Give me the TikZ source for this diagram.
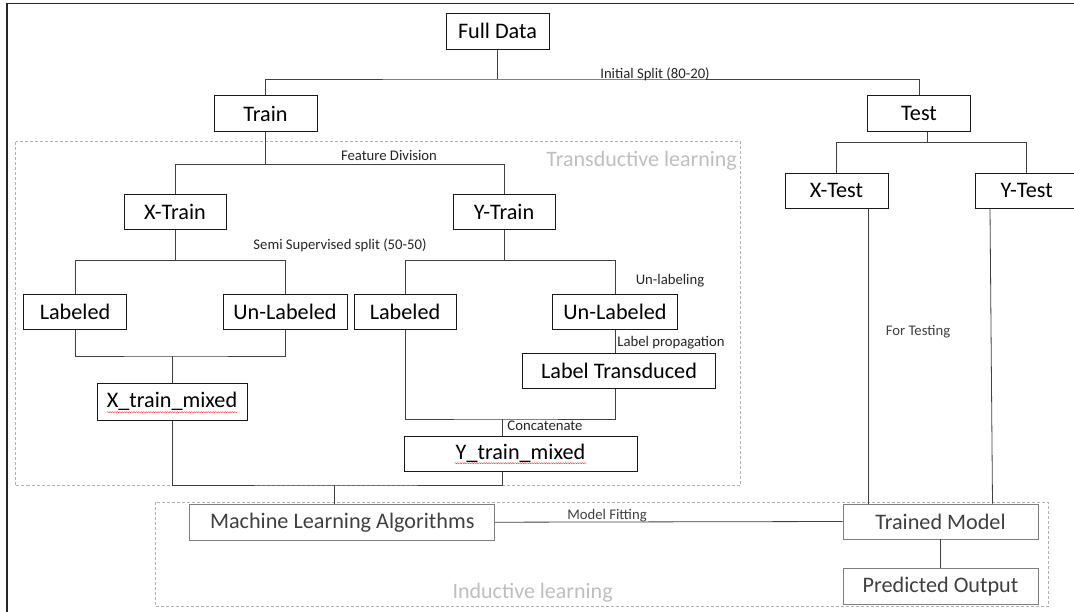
\documentclass[tikz,border=0pt]{standalone}
\usepackage{fontspec}
\setmainfont{Carlito}
\usetikzlibrary{calc,decorations.pathmorphing}
\definecolor{frameC}{HTML}{262626}
\definecolor{lineC}{HTML}{404040}
\definecolor{dashC}{HTML}{B0B0B0}
\definecolor{ghostC}{HTML}{BFBFBF}
\definecolor{softtext}{HTML}{404040}
\definecolor{softbox}{HTML}{7F7F7F}
\begin{document}
\begin{tikzpicture}[x=1pt,y=-1pt,
  box/.style={draw=black!90, line width=0.8pt, inner sep=0pt, fill=white,
    font=\fontsize{22.2}{26}\selectfont},
  gbox/.style={box, draw=softbox, text=softtext},
  sz/.style 2 args={minimum width=#1pt, minimum height=#2pt},
  conn/.style={draw=lineC, line width=0.8pt},
  lbl/.style={inner sep=0pt, text=frameC, font=\fontsize{14.7}{17}\selectfont},
  ghost/.style={inner sep=0pt, text=ghostC, font=\fontsize{22}{26}\selectfont},
  region/.style={draw=dashC, line width=0.7pt, dash pattern=on 3pt off 2pt},
  squig/.style={draw=red!75, line width=0.45pt, decorate,
    decoration={snake, amplitude=0.6pt, segment length=2.4pt}}]
\useasboundingbox (0,0) rectangle (1074,611);
\fill[white] (0,0) rectangle (1074,611);
% outer frame
\draw[frameC, line width=1.3pt] (7,615) -- (7,3.3) -- (1080,3.3);
% dashed regions
\draw[region] (15.5,141.7) rectangle (740,485.7);
\draw[region] (155,502.3) rectangle (1048,606.7);
\node[ghost, anchor=east] (tlab) at (737,161) {Transductive learning};
\node[ghost] (ilab) at (532.6,592.7) {Inductive learning};
% nodes
\node[box, sz={103}{36}] (full) at (497.5,31.2) {Full Data};
\node[box, sz={103}{36}] (train) at (265.5,113.7) {Train};
\node[box, sz={103}{36}] (test) at (919,113.7) {Test};
\node[box, sz={103}{35}] (xtest) at (836.5,190.8) {X-Test};
\node[box, sz={102}{35}] (ytest) at (1026.7,190.8) {Y-Test};
\node[box, sz={102}{35}] (xtrain) at (175,211.8) {X-Train};
\node[box, sz={102}{35}] (ytrain) at (504,211.8) {Y-Train};
\node[box, sz={103}{35}] (xlab) at (75,311.8) {Labeled};
\node[box, sz={124}{35}] (xunl) at (285,311.8) {Un-Labeled};
\node[box, sz={102}{35}] (ylab) at (405,311.8) {Labeled};
\node[box, sz={125}{35}] (yunl) at (615,311.8) {Un-Labeled};
\node[box, sz={193}{35}] (ltrans) at (619,370.8) {Label Transduced};
\node[box, sz={150}{37}] (xmix) at (172,401.7) {X\_train\_mixed};
\node[box, sz={233}{35}] (ymix) at (520.5,453.7) {Y\_train\_mixed};
\node[gbox, sz={305}{36}] (ml) at (342.3,522.2) {Machine Learning Algorithms};
\node[gbox, sz={195}{35}] (trained) at (940.5,521.5) {Trained Model};
\node[gbox, sz={195}{36}] (pred) at (940.5,586.2) {Predicted Output};
% spell-check squiggles
\draw[squig] ($(xmix.center)+(-65,10.5)$) -- ++(130,0);
\draw[squig] ($(ymix.center)+(-66,9.5)$) -- ++(132,0);
% junction coordinates
\coordinate (j1) at (497.5,79);
\coordinate (j2) at (927,142.7);
\coordinate (j3) at (265.5,164.3);
\coordinate (j4) at (175,260.3);
\coordinate (j5) at (504,260.3);
\coordinate (j6) at (172,356);
\coordinate (j7) at (502,419);
\coordinate (j8) at (334.6,485);
\coordinate (xt) at (868,0);
\coordinate (yt1) at (990,0);
\coordinate (yt2) at (992.5,0);
% connectors
\draw[conn] (full.south) -- (j1);
\draw[conn] (train.north) |- (j1) -| (test.north);
\draw[conn] (test.south -| j2) -- (j2);
\draw[conn] (xtest.north) |- (j2) -| (ytest.north);
\draw[conn] (train.south) -- (j3);
\draw[conn] (xtrain.north) |- (j3) -| (ytrain.north);
\draw[conn] (xtrain.south) -- (j4);
\draw[conn] (xlab.north) |- (j4) -| (xunl.north);
\draw[conn] (ytrain.south) -- (j5);
\draw[conn] (ylab.north) |- (j5) -| (yunl.north);
\draw[conn] (xlab.south) |- (j6) -| (xunl.south);
\draw[conn] (j6) -- (xmix.north);
\draw[conn] (yunl.south) -- (ltrans.north -| yunl.south);
\draw[conn] (ylab.south) |- (j7) -| (ltrans.south -| yunl.south);
\draw[conn] (j7) -- (ymix.north -| j7);
\draw[conn] (xmix.south) |- (j8) -| (ymix.south -| j7);
\draw[conn] (j8) -- (ml.north -| j8);
\draw[conn] (ml.east) -- (trained.west);
\draw[conn] (trained.south) -- (pred.north);
\draw[conn] (xtest.south -| xt) -- (trained.north -| xt);
\draw[conn] (ytest.south -| yt1) -- (trained.north -| yt2);
% connector labels
\node[lbl] (l1) at (655,74) {Initial Split (80-20)};
\node[lbl] (l2) at (389,155) {Feature Division};
\node[lbl] (l3) at (340,245.7) {Semi Supervised split (50-50)};
\node[lbl] (l4) at (670,281) {Un-labeling};
\node[lbl] (l5) at (671,342.3) {Label propagation};
\node[lbl] (l6) at (545,426) {Concatenate};
\node[lbl, text=softtext] (l7) at (607,516) {Model Fitting};
\node[lbl, text=softtext] (l8) at (918,331.7) {For Testing};
\end{tikzpicture}
\end{document}
